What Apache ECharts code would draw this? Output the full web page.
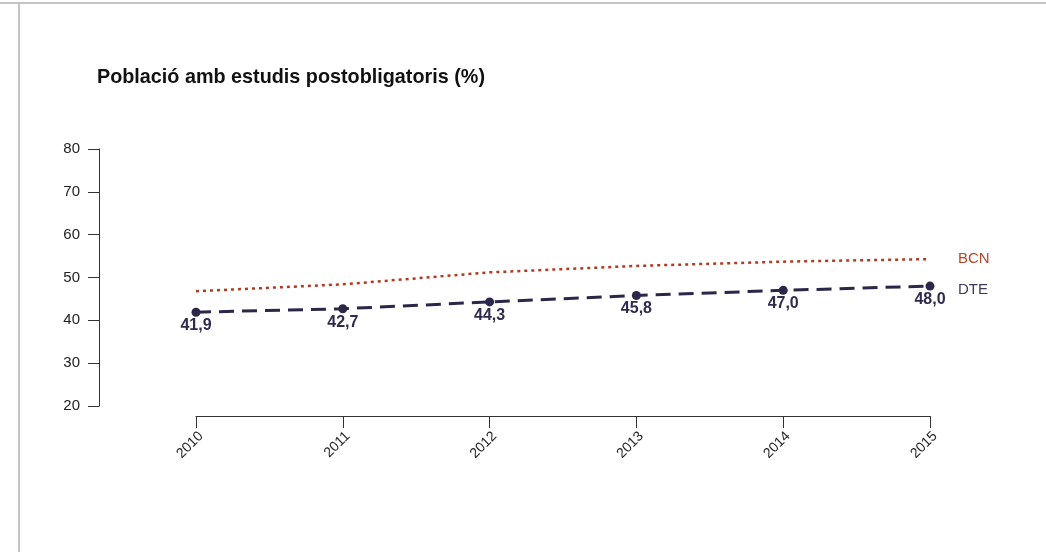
<!DOCTYPE html>
<html>
<head>
<meta charset="utf-8">
<script src="https://cdn.jsdelivr.net/npm/echarts@6/dist/echarts.min.js"></script>
<style>
html,body{margin:0;padding:0;background:#fff;}
#chart{width:1046px;height:552px;}
</style>
</head>
<body>
<div id="chart"></div>
<script>
var years = ['2010', '2011', '2012', '2013', '2014', '2015'];
var bcnValues = [46.8, 48.4, 51.2, 52.7, 53.7, 54.3];
var dteValues = [41.9, 42.7, 44.3, 45.8, 47.0, 48.0];
var yTicks = [20, 30, 40, 50, 60, 70, 80];
var titleText = 'Població amb estudis postobligatoris (%)';

var FONT = '"Liberation Sans", Arial, sans-serif';
var chart = echarts.init(document.getElementById('chart'), null, {renderer: 'canvas'});

chart.setOption({
  animation: false,
  backgroundColor: '#ffffff',
  title: {
    text: titleText,
    left: 97,
    top: 68,
    padding: 0,
    textStyle: {fontFamily: FONT, fontSize: 19.8, fontWeight: 'bold', color: '#111111'}
  },
  graphic: [
    {type: 'line', shape: {x1: 0, y1: 3, x2: 1046, y2: 3}, style: {stroke: '#c4c4c4', lineWidth: 2}},
    {type: 'line', shape: {x1: 19, y1: 3, x2: 19, y2: 552}, style: {stroke: '#c4c4c4', lineWidth: 2}}
  ],
  grid: {left: 196, right: 116, top: 149, bottom: 146, containLabel: false},
  xAxis: {
    type: 'category',
    data: years,
    boundaryGap: false,
    offset: 10,
    axisLine: {show: true, lineStyle: {color: '#333333', width: 1}},
    axisTick: {show: true, length: 12, alignWithLabel: true, lineStyle: {color: '#333333'}},
    axisLabel: {rotate: 45, margin: 13, verticalAlign: 'top', fontFamily: FONT, fontSize: 14, color: '#222222'},
    splitLine: {show: false}
  },
  yAxis: {
    type: 'value',
    min: yTicks[0],
    max: yTicks[yTicks.length - 1],
    interval: 10,
    offset: 97,
    axisLine: {show: true, lineStyle: {color: '#333333', width: 1}},
    axisTick: {show: true, length: 11, lineStyle: {color: '#333333'}},
    axisLabel: {margin: 19, fontFamily: FONT, fontSize: 15, color: '#222222'},
    splitLine: {show: false}
  },
  series: [
    {
      name: 'BCN',
      type: 'line',
      data: bcnValues,
      symbol: 'none',
      lineStyle: {color: '#b03a22', width: 2.5, type: [3, 4]},
      itemStyle: {color: '#b03a22'},
      endLabel: {show: true, formatter: '{a}', distance: 28, offset: [0, 0],
        fontFamily: FONT, fontSize: 15, color: '#b5452a'}
    },
    {
      name: 'DTE',
      type: 'line',
      data: dteValues,
      symbol: 'circle',
      symbolSize: 9,
      lineStyle: {color: '#2a2748', width: 3, type: [15, 8]},
      itemStyle: {color: '#2a2748'},
      label: {
        show: true, position: 'bottom', distance: 1,
        formatter: function (p) { return p.value.toFixed(1).replace('.', ','); },
        fontFamily: FONT, fontSize: 16, fontWeight: 'bold', color: '#2e2b4f'
      },
      endLabel: {show: true, formatter: '{a}', distance: 28, offset: [0, 4],
        fontFamily: FONT, fontSize: 15, color: '#3d3a5c'}
    }
  ]
});
</script>
</body>
</html>
